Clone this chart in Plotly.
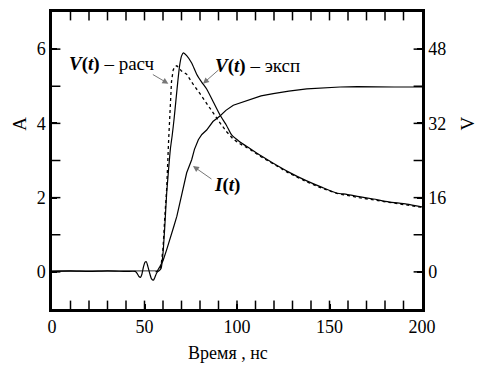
import plotly.graph_objects as go

# V(t) experimental, volts (right axis)
t_vexp = [0, 10, 20, 30, 40, 45, 46, 47, 47.8, 48.6, 49.4, 50.3, 51, 51.8, 52.8, 53.8, 54.8,
          55.6, 56.5, 57.3, 58, 59, 60, 61, 62, 63, 64, 65,
          66, 67, 68, 69, 70, 71, 72.8, 75.5, 78.2, 80.9, 83.6, 87.2, 90.8, 94.4, 97.1, 101.6,
          107, 113, 119.6, 128, 137.7, 146, 153.9, 159.3, 166, 173.7, 182, 191.7, 200]
v_exp = [0.1, 0.2, 0.1, 0.2, 0.1, 0.1, -0.3, -1.0, -1.2, -0.5, 1.0, 2.1, 2.2, 1.2, -0.3, -1.5, -1.8,
         -1.2, -0.3, 0.1, 0.3, 0.8, 4, 10, 17, 22, 26.5, 29.5,
         33, 37, 41, 44.5, 46.5, 47.2, 46.6, 45, 42.6, 40.9, 39.4, 36.6, 33.8, 31.5, 29.5, 28,
         26.6, 25, 23.4, 21.5, 19.6, 18.2, 17, 16.7, 16.2, 15.7, 15.1, 14.6, 14]

# V(t) calculated, volts (right axis)
t_vcalc = [56, 58, 59, 60, 61, 62, 63, 63.8, 64.6, 65.5, 66.5, 67.5, 68.3, 70, 72.8, 76, 80, 84,
           87.2, 91, 94.4, 98, 101.6, 107, 113, 119.6, 128, 137.7, 146, 153.9, 166, 182, 200]
v_calc = [0, 0.3, 1.5, 5, 12, 18, 28, 36, 41, 43.5, 44.3, 44.4, 44, 43.3, 42.6, 40.6, 38.4, 36,
          34.2, 32, 30.2, 28.6, 27.6, 26.4, 24.8, 23.2, 21.3, 19.4, 18, 16.9, 16, 15, 13.9]

# I(t), amperes (left axis)
t_i = [0, 20, 40, 56, 57, 58.4, 60, 62, 64, 66, 67.5, 69.2, 71, 72.8, 75.5, 77, 79.1, 81, 83.6,
       87, 90.8, 94, 98, 101.6, 107, 113, 119.6, 128, 137.7, 146, 155.7, 165, 173.7, 185, 200]
i_val = [0.02, 0.02, 0.02, 0.02, 0.03, 0.15, 0.3, 0.6, 0.9, 1.25, 1.5, 1.9, 2.3, 2.67, 3.02, 3.3,
         3.56, 3.7, 3.82, 4.05, 4.2, 4.35, 4.49, 4.55, 4.65, 4.74, 4.8, 4.87, 4.93, 4.96, 4.98,
         4.99, 4.98, 4.98, 4.98]

# axis ranges and tick positions (minor + major) along the frame
x_range = [0, 200]
yA_range = [-1, 7]
yV_range = [-8, 56]
x_tick_pos = list(range(10, 200, 10))
y_tick_pos = list(range(0, 7))

FONT = "Times New Roman, Liberation Serif, DejaVu Serif, serif"

fig = go.Figure()
fig.add_trace(go.Scatter(x=t_i, y=i_val, mode="lines", line=dict(color="black", width=1.2),
                         yaxis="y", showlegend=False))
fig.add_trace(go.Scatter(x=t_vcalc, y=v_calc, mode="lines",
                         line=dict(color="black", width=1.3, dash="dot"),
                         yaxis="y2", showlegend=False))
fig.add_trace(go.Scatter(x=t_vexp, y=v_exp, mode="lines",
                         line=dict(color="black", width=1.2, shape="spline", smoothing=0.6),
                         yaxis="y2", showlegend=False))

# inside tick marks along the frame, drawn as line markers clipped by the plot area
tick_marker_v = dict(symbol="line-ns", size=12, color="black", line=dict(width=1.5, color="black"))
tick_marker_h = dict(symbol="line-ew", size=12, color="black", line=dict(width=1.5, color="black"))
for yv in yA_range:
    fig.add_trace(go.Scatter(x=x_tick_pos, y=[yv] * len(x_tick_pos), mode="markers",
                             marker=tick_marker_v, yaxis="y", showlegend=False,
                             hoverinfo="skip", cliponaxis=True))
for xv in x_range:
    fig.add_trace(go.Scatter(x=[xv] * len(y_tick_pos), y=y_tick_pos, mode="markers",
                             marker=tick_marker_h, yaxis="y", showlegend=False,
                             hoverinfo="skip", cliponaxis=True))

tickfont = dict(family=FONT, size=18, color="black")
fig.update_layout(
    width=494, height=372,
    margin=dict(l=44, r=80, t=1, b=71),
    paper_bgcolor="white", plot_bgcolor="white",
    font=dict(family=FONT, color="black"),
    xaxis=dict(range=x_range, tickmode="linear", tick0=0, dtick=50,
               ticks="inside", ticklen=5, tickwidth=1.5, tickcolor="black",
               showline=True, linewidth=2.5, linecolor="black",
               mirror=True, showgrid=False, zeroline=False, tickfont=tickfont),
    yaxis=dict(range=yA_range, tickmode="linear", tick0=0, dtick=2,
               ticks="inside", ticklen=5, tickwidth=1.5, tickcolor="black",
               showline=True, linewidth=2.5, linecolor="black",
               mirror=True, showgrid=False, zeroline=False, tickfont=tickfont),
    yaxis2=dict(range=yV_range, tickmode="linear", tick0=0, dtick=16, overlaying="y",
                side="right", anchor="x", ticks="inside", ticklen=5, tickwidth=1.5,
                tickcolor="black", showline=True, linewidth=2.5, linecolor="black",
                showgrid=False, zeroline=False, tickfont=tickfont),
)

lab = dict(family=FONT, size=19, color="black")
ann = [
    dict(x=8, y=5.6, xref="x", yref="y", text="<b><i>V</i>(<i>t</i>)</b> – расч",
         showarrow=False, xanchor="left", yanchor="middle", font=lab),
    dict(x=87, y=5.55, xref="x", yref="y", text="<b><i>V</i>(<i>t</i>)</b> – эксп",
         showarrow=False, xanchor="left", yanchor="middle", font=lab),
    dict(x=86.5, y=2.35, xref="x", yref="y", text="<b><i>I</i>(<i>t</i>)</b>",
         showarrow=False, xanchor="left", yanchor="middle", font=lab),
    dict(x=62.9, y=5.07, xref="x", yref="y", text="", showarrow=True, ax=-17, ay=-10,
         arrowhead=2, arrowsize=1.2, arrowwidth=1, arrowcolor="#777777"),
    dict(x=81.6, y=5.07, xref="x", yref="y", text="", showarrow=True, ax=17, ay=-15,
         arrowhead=2, arrowsize=1.2, arrowwidth=1, arrowcolor="#777777"),
    dict(x=76.2, y=2.85, xref="x", yref="y", text="", showarrow=True, ax=20, ay=14,
         arrowhead=2, arrowsize=1.2, arrowwidth=1, arrowcolor="#777777"),
    dict(x=-0.088, y=4, xref="paper", yref="y", text="A", textangle=-90, showarrow=False,
         xanchor="center", yanchor="middle", font=dict(family=FONT, size=19, color="black")),
    dict(x=1.122, y=4, xref="paper", yref="y", text="V", textangle=-90, showarrow=False,
         xanchor="center", yanchor="middle", font=dict(family=FONT, size=19, color="black")),
    dict(x=95, y=-0.148, xref="x", yref="paper", text="Время , нс", showarrow=False,
         xanchor="center", yanchor="middle", font=dict(family=FONT, size=18, color="black")),
]
fig.update_layout(annotations=ann)

fig.write_html("out.html")
